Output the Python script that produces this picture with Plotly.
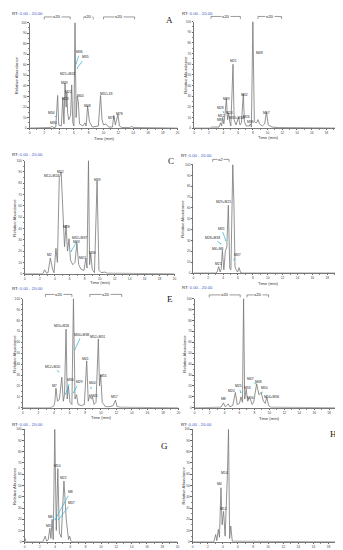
import plotly.graph_objects as go

# ---------------- data (retention time in min, relative abundance %) ----------------
time_A = [0, 2.8, 3.0, 3.2, 3.55, 3.8, 3.95, 4.3, 4.5, 4.65, 4.8, 4.95, 5.05, 5.15, 5.3, 5.55, 5.7, 5.85, 6.0, 6.15, 6.3, 6.45, 6.6, 6.75, 7.2, 7.5, 7.65, 7.85, 8.1, 8.5, 9.3, 9.6, 9.8, 10.0, 10.3, 10.7, 11.2, 11.4, 11.6, 11.95, 12.15, 12.5, 13.5, 13.8, 14.1, 20]
abund_A = [0, 0.5, 2, 0.5, 1, 31, 3, 2, 29, 4, 43, 20, 34, 14, 8, 12, 41, 5, 2, 100, 10, 30, 25, 4, 2, 5, 2, 21, 6, 1, 2, 31, 8, 3, 4, 1, 1, 12, 3, 13, 2, 0.5, 0.5, 1.5, 0.5, 0]

time_B = [0, 2.2, 2.4, 3.4, 3.6, 3.75, 3.9, 4.05, 4.2, 4.4, 4.55, 4.7, 4.85, 5.0, 5.3, 5.45, 5.7, 5.9, 6.05, 6.25, 6.45, 6.7, 6.85, 7.1, 7.5, 7.65, 7.8, 8.0, 8.2, 8.5, 8.7, 8.9, 9.3, 9.6, 9.85, 10.1, 10.6, 11.5, 20]
abund_B = [0, 0, 1, 1, 5, 2, 10, 4, 12, 28, 8, 14, 6, 2, 60, 8, 3, 8, 10, 3, 5, 32, 6, 2, 2, 4, 1, 100, 6, 5, 8, 4, 2, 4, 15, 3, 1, 0.5, 0]

time_C = [0, 2.4, 2.65, 2.9, 3.1, 3.4, 3.7, 3.9, 4.15, 4.35, 4.6, 4.85, 5.05, 5.3, 5.5, 5.7, 5.9, 6.1, 6.4, 6.7, 6.95, 7.2, 7.5, 7.9, 8.15, 8.3, 8.5, 8.65, 8.8, 9.0, 9.3, 9.65, 9.9, 10.2, 10.7, 11.0, 20]
abund_C = [0, 0, 3.5, 0.5, 1, 14, 4, 1, 22.5, 10, 85, 90, 60, 24, 43, 20, 31, 12, 8, 10, 27, 8, 4, 3, 14, 5, 100, 8, 18, 4, 1, 82, 3, 1, 1.5, 0.5, 0]

time_D = [0, 3.0, 3.2, 3.4, 3.6, 3.75, 3.9, 4.1, 4.3, 4.5, 4.7, 4.9, 5.05, 5.3, 5.45, 5.6, 5.75, 5.95, 6.15, 6.35, 6.6, 20]
abund_D = [0, 0, 1, 6, 1, 4, 21, 3, 20, 24, 62.5, 4, 3, 100, 65, 6, 3, 1, 5, 0.5, 0, 0]

time_E = [0, 3.5, 3.8, 4.0, 4.1, 4.25, 4.45, 4.7, 5.0, 5.2, 5.35, 5.55, 5.7, 5.85, 6.05, 6.3, 6.5, 6.7, 6.9, 7.1, 7.5, 7.9, 8.2, 8.4, 8.6, 8.8, 8.95, 9.15, 9.4, 9.7, 9.85, 10.0, 10.2, 10.6, 11.2, 11.6, 11.9, 12.1, 12.5, 20]
abund_E = [0, 0, 1, 2, 5, 18, 6, 8, 28, 6, 12, 72, 8, 20, 5, 3, 100, 8, 12, 3, 2, 3, 43, 6, 12, 8, 10, 3, 5, 63, 20, 30, 5, 1, 1, 2, 7, 1, 0.5, 0]

time_F = [0, 3.5, 3.85, 4.1, 4.3, 4.5, 4.7, 5.1, 5.45, 5.7, 6.0, 6.2, 6.4, 6.55, 6.7, 6.9, 7.1, 7.3, 7.45, 7.7, 7.9, 8.3, 8.6, 8.9, 9.2, 9.45, 9.65, 9.9, 10.2, 20]
abund_F = [0, 0.5, 4.5, 1, 2, 3.6, 1, 2, 14, 3, 4, 10, 5, 100, 8, 17, 6, 9, 8, 3, 5, 22, 12, 14, 6, 4, 10, 2, 0.5, 0]

time_G = [0, 0.05, 0.2, 2.4, 2.7, 2.9, 3.1, 3.3, 3.45, 3.6, 3.75, 3.95, 4.15, 4.35, 4.55, 4.8, 5.15, 5.45, 5.75, 5.9, 6.1, 20]
abund_G = [0, 3, 0, 0, 5, 0.5, 2, 12, 3, 20, 2, 100, 10, 65, 8, 4, 54, 20, 2, 5, 0, 0]

time_H = [0, 2.8, 3.05, 3.2, 3.4, 3.55, 3.75, 3.9, 4.1, 4.3, 4.6, 4.75, 4.9, 5.05, 5.25, 20]
abund_H = [0, 0, 6.5, 1, 11, 4, 48, 15, 27, 5, 59, 100, 3, 14, 0.5, 0]

# peak labels: text, label time, label abundance, pointer target (None = no pointer)
lab_A = ["M34", "M30", "M23", "M29", "M22", "M21+M24", "M1", "M36", "M35", "M44", "M48", "M32+33", "M71", "M78"]
lab_A_t = [3.0, 3.3, 4.8, 4.7, 5.3, 5.2, 6.25, 6.8, 7.5, 6.85, 7.85, 10.3, 11.1, 12.1]
lab_A_y = [14.7, 4.4, 28, 43, 34, 51, 102, 72, 67, 30, 20.5, 32, 10, 13]
ptr_A_t = [3.5, None, None, None, None, 5.4, None, 6.3, 6.45, None, None, None, None, None]
ptr_A_y = [11, None, None, None, None, 48, None, 61, 57, None, None, None, None, None]

lab_B = ["M8", "M12", "M28", "M29", "M24", "M21", "M33+M34", "M32", "M26", "M36", "M47", "M48", "M57"]
lab_B_t = [3.4, 3.75, 3.55, 4.35, 4.8, 5.35, 5.75, 6.8, 7.1, 7.7, 8.0, 8.85, 9.9]
lab_B_y = [7.5, 11.5, 19, 27.6, 14, 63, 9.3, 31, 10, 6, 101.5, 70.5, 14]
ptr_B_t = [3.7, None, 4.0, None, None, None, 6.1, None, None, None, None, 8.6, None]
ptr_B_y = [5, None, 15, None, None, None, 7.5, None, None, None, None, 68, None]

lab_C = ["M2", "M12+M24", "M22", "M28", "M32+M37", "M43", "M47", "M48", "M36", "M49"]
lab_C_t = [3.3, 3.55, 4.8, 5.6, 7.25, 6.9, 7.75, 8.4, 9.0, 9.65]
lab_C_y = [17, 86, 90, 41, 32, 28, 14, 101.5, 18, 82.5]
ptr_C_t = [None, None, None, None, 6.2, None, None, None, None, None]
ptr_C_y = [None, None, None, None, 20, None, None, None, None, None]

lab_D = ["M21", "M4+M6", "M28+M33", "M31", "M29+M21", "M27", "M37"]
lab_D_t = [3.4, 3.35, 2.55, 3.8, 4.05, 5.35, 6.0]
lab_D_y = [8, 22.5, 32.6, 41, 65.5, 102, 17]
ptr_D_t = [None, None, 3.7, 4.35, None, None, 5.45]
ptr_D_y = [None, None, 27, 30, None, None, 12]

lab_E = ["M7", "M12+M20", "M20+M26", "M36", "M8", "M34+M38", "M29", "M41", "M44", "M45", "M52+M51", "M55", "M57"]
lab_E_t = [4.05, 3.8, 4.9, 6.1, 6.5, 7.55, 7.25, 8.07, 8.9, 9.17, 9.6, 10.3, 11.8]
lab_E_y = [19.7, 37.6, 75, 25, 101.5, 66.7, 23.3, 45, 22.4, 11, 65, 29.4, 9.7]
ptr_E_t = [None, 4.6, None, 5.5, None, 6.7, 6.5, None, 8.75, None, None, None, None]
ptr_E_y = [None, 33, None, 12.7, None, 53.6, 14, None, 18, None, None, None, None]

lab_F = ["M8", "M20", "M25", "M27+M28", "M33", "M34", "M47", "M48", "M50", "M54+M56"]
lab_F_t = [3.83, 4.93, 5.9, 7.0, 7.05, 7.53, 7.53, 8.55, 9.34, 10.3]
lab_F_y = [8.2, 15.8, 19.7, 101.5, 17.9, 9, 26.4, 24, 18, 9.7]
ptr_F_t = [None, None, 6.17, None, None, None, 8.1, None, 9.0, None]
ptr_F_y = [None, None, 14, None, None, None, 22, None, 14, None]

lab_G = ["M3", "M6", "M7", "M10", "M22", "M8", "M37"]
lab_G_t = [3.15, 3.37, 3.9, 4.36, 5.1, 5.96, 6.1]
lab_G_y = [14.4, 22, 102, 67, 56.5, 44, 34.4]
ptr_G_t = [None, None, None, None, None, 4.0, 4.45]
ptr_G_y = [None, None, None, None, None, 19.7, 19.7]

lab_H = ["M4", "M12", "M14", "M23"]
lab_H_t = [3.5, 4.07, 4.16, 4.68]
lab_H_y = [51.5, 29.4, 61, 102]
ptr_H_t = [None, None, None, None]
ptr_H_y = [None, None, None, None]

# x20 / x2 magnification brackets (start, end, text)
brk_A = [(2.0, 5.5, "x20"), (7.3, 8.6, "x20"), (10.0, 14.2, "x20")]
brk_B = [(2.3, 6.3, "x20"), (8.7, 11.9, "x20")]
brk_C = []
brk_D = [(2.6, 4.8, "x2")]
brk_E = [(2.9, 6.3, "x20"), (8.6, 12.7, "x20")]
brk_F = [(1.95, 6.1, "x20"), (7.0, 9.9, "x20")]
brk_G = []
brk_H = []

panel_names = ["A", "B", "C", "D", "E", "F", "G", "H"]
times = [time_A, time_B, time_C, time_D, time_E, time_F, time_G, time_H]
abunds = [abund_A, abund_B, abund_C, abund_D, abund_E, abund_F, abund_G, abund_H]
labs = [(lab_A, lab_A_t, lab_A_y, ptr_A_t, ptr_A_y), (lab_B, lab_B_t, lab_B_y, ptr_B_t, ptr_B_y),
        (lab_C, lab_C_t, lab_C_y, ptr_C_t, ptr_C_y), (lab_D, lab_D_t, lab_D_y, ptr_D_t, ptr_D_y),
        (lab_E, lab_E_t, lab_E_y, ptr_E_t, ptr_E_y), (lab_F, lab_F_t, lab_F_y, ptr_F_t, ptr_F_y),
        (lab_G, lab_G_t, lab_G_y, ptr_G_t, ptr_G_y), (lab_H, lab_H_t, lab_H_y, ptr_H_t, ptr_H_y)]
brks = [brk_A, brk_B, brk_C, brk_D, brk_E, brk_F, brk_G, brk_H]

# ---------------- layout (pixel geometry) ----------------
W, H = 343, 550
# plot-area boxes: (x_left, x_right, y_top, y_bottom) in px
boxes = [(20.7, 170, 12.7, 119), (186.7, 335, 11.7, 119),
         (16, 167, 151.7, 265.7), (186, 336, 155.7, 265),
         (14, 171, 290.7, 400.7), (187.3, 338, 290.7, 400.7),
         (15.7, 170, 422.3, 535.7), (185.3, 337.5, 422.3, 535.7)]
rt_pos = [(1, 4), (173, 4), (1, 146), (172, 147), (1, 281), (173, 280), (1, 418), (172, 418)]
letter_pos = [(162, 10), (334, 12), (163, 152), (335, 150), (162, 291), (334, 290), (157, 439), (327, 427)]
bracket_y = [7, 6.5, None, 150.5, 286.5, 287, None, None]
xtitle_y = [129, 128, 274, 275, 410, 411, 545.5, 545]
ytitle_x = [7, 178.5, 5.5, 175.5, 5.5, 177, 5.5, 176.5]

px = lambda v: v / W
py = lambda v: 1 - v / H

LINE = "#777777"
CYAN = "#29b3d9"
BLUE = "#3a55c8"
fig = go.Figure()
annotations = []
shapes = []
layout = {}

for i, name in enumerate(panel_names):
    k = "" if i == 0 else str(i + 1)
    xa, ya = "x" + k, "y" + k
    xl, xr, yt, yb = boxes[i]
    fig.add_trace(go.Scatter(x=times[i], y=abunds[i], mode="lines",
                             line=dict(color=LINE, width=0.8), xaxis=xa, yaxis=ya,
                             showlegend=False, hoverinfo="skip", cliponaxis=False))
    axis_common = dict(ticks="outside", ticklen=1.5, tickwidth=0.5, tickcolor="#666",
                       tickfont=dict(size=3.2, color="#444", family="Arial"),
                       showline=True, linecolor="#777", linewidth=0.6, showgrid=False, zeroline=False)
    layout["xaxis" + k] = dict(domain=[px(xl), px(xr)], anchor=ya, range=[0, 20],
                               tickmode="linear", tick0=0, dtick=2,
                               minor=dict(ticks="outside", dtick=1, ticklen=1, tickcolor="#888"), **axis_common)
    layout["yaxis" + k] = dict(domain=[py(yb), py(yt)], anchor=xa, range=[0, 100],
                               tickmode="linear", tick0=0, dtick=10,
                               minor=dict(ticks="outside", dtick=5, ticklen=1, tickcolor="#888"), **axis_common)
    # RT header
    rx, ry = rt_pos[i]
    annotations.append(dict(xref="paper", yref="paper", x=px(rx), y=py(ry), xanchor="left", yanchor="middle",
                            showarrow=False, font=dict(size=4.3, color="#222", family="Arial"),
                            text="RT: <span style='color:%s'>0.00 - 20.00</span>" % BLUE))
    # panel letter
    lx, ly = letter_pos[i]
    annotations.append(dict(xref="paper", yref="paper", x=px(lx), y=py(ly), xanchor="center", yanchor="middle",
                            showarrow=False, text=name,
                            font=dict(size=9, color="#111", family="Liberation Serif, DejaVu Serif, serif")))
    # axis titles
    annotations.append(dict(xref="paper", yref="paper", x=px((xl + xr) / 2), y=py(xtitle_y[i]),
                            xanchor="center", yanchor="middle", showarrow=False, text="Time (min)",
                            font=dict(size=4.2, color="#333", family="Arial")))
    annotations.append(dict(xref="paper", yref="paper", x=px(ytitle_x[i]), y=py((yt + yb) / 2),
                            xanchor="center", yanchor="middle", showarrow=False, text="Relative Abundance",
                            textangle=-90, font=dict(size=4.2, color="#333", family="Arial")))
    # peak labels
    texts, lt, ly_, pt, pv = labs[i]
    for j, t in enumerate(texts):
        if pt[j] is None:
            annotations.append(dict(xref=xa, yref=ya, x=lt[j], y=ly_[j], text=t, showarrow=False,
                                    xanchor="center", yanchor="middle",
                                    font=dict(size=3.4, color="#222", family="Arial")))
        else:
            annotations.append(dict(xref=xa, yref=ya, x=pt[j], y=pv[j], ax=lt[j], ay=ly_[j],
                                    axref=xa, ayref=ya, text=t, showarrow=True, arrowhead=6,
                                    arrowsize=0.4, arrowwidth=0.7, arrowcolor=CYAN, standoff=0,
                                    font=dict(size=3.4, color="#222", family="Arial")))
    # brackets
    if bracket_y[i] is not None:
        by = bracket_y[i]
        for (s, e, lbl) in brks[i]:
            shapes.append(dict(type="line", xref=xa, yref="paper", x0=s, x1=e, y0=py(by), y1=py(by),
                               line=dict(color="#555", width=0.6)))
            for xe in (s, e):
                shapes.append(dict(type="line", xref=xa, yref="paper", x0=xe, x1=xe, y0=py(by), y1=py(by + 2.5),
                                   line=dict(color="#555", width=0.6)))
            annotations.append(dict(xref=xa, yref="paper", x=(s + e) / 2, y=py(by), text=lbl, showarrow=False,
                                    xanchor="center", yanchor="middle", bgcolor="white", borderpad=0,
                                    font=dict(size=4.3, color="#222", family="Arial")))

fig.update_layout(width=W, height=H, autosize=False, margin=dict(l=0, r=0, t=0, b=0),
                  paper_bgcolor="white", plot_bgcolor="white", annotations=annotations, shapes=shapes,
                  **layout)
fig.write_html("out.html")
